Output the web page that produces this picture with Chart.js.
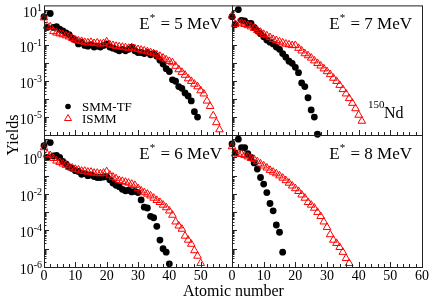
<!DOCTYPE html>
<html>
<head>
<meta charset="utf-8">
<script src="https://cdn.jsdelivr.net/npm/chart.js@4.4.0/dist/chart.umd.min.js"></script>
<style>
body { margin: 0; background: #fff; }
#wrap { position: relative; width: 430px; height: 300px; overflow: hidden; }
#wrap canvas { position: absolute; left: 0; top: 0; }
.title { position: absolute; font-family: "Liberation Serif", serif; font-size: 16px; color: #000; white-space: nowrap; }
#ytitle { left: -12px; top: 126px; width: 50px; text-align: center; transform: rotate(-90deg); }
#xtitle { left: 183px; top: 282px; }
</style>
</head>
<body>
<div id="wrap">
  <canvas id="p5" width="430" height="300"></canvas>
  <canvas id="p7" width="430" height="300"></canvas>
  <canvas id="p6" width="430" height="300"></canvas>
  <canvas id="p8" width="430" height="300"></canvas>
  <div class="title" id="ytitle">Yields</div>
  <div class="title" id="xtitle">Atomic number</div>
</div>
<script>
// yields vs atomic number Z (index = Z, starting at 0)
var smm5 = [4, 1.0, 6, 1.0, 1.1, 0.8, 0.65, 0.5, 0.4, 0.25, 0.2, 0.12, 0.15, 0.1, 0.09, 0.11, 0.08, 0.09, 0.08, 0.1,
            0.12, 0.08, 0.07, 0.06, 0.05, 0.06, 0.05, 0.06, 0.08, 0.05, 0.04, 0.04, 0.035, 0.04, 0.03, 0.035, 0.025, 0.015, 0.009, 0.005,
            0.0035, 0.0012, 0.001, 0.0005, 0.0004, 0.00022, 0.00015, 0.00008, 0.00002, 0.00001];
var ismm5 = [3.5, 1.2, 1.1, 0.6, 0.5, 0.45, 0.4, 0.35, 0.3, 0.25, 0.2, 0.18, 0.17, 0.15, 0.14, 0.15, 0.13, 0.14, 0.12, 0.13,
             0.16, 0.11, 0.1, 0.09, 0.085, 0.08, 0.075, 0.07, 0.075, 0.065, 0.06, 0.055, 0.05, 0.045, 0.04, 0.035, 0.03, 0.025, 0.02, 0.016,
             0.013, 0.011, 0.007, 0.0045, 0.0032, 0.0022, 0.0014, 0.001, 0.0007, 0.0005, 0.0003, 0.0002, 0.00008, 0.00004, 0.000012, 0.000005, 0.000002];
var smm7 = [4, 1.5, 10, 2.5, 2.3, 1.7, 1.7, 1.0, 0.65, 0.45, 0.3, 0.2, 0.15, 0.12, 0.08, 0.06, 0.035, 0.022, 0.013, 0.01,
            0.006, 0.003, 0.0008, 0.0005, 0.00012, 0.000025, 0.00001, 0.0000011];
var ismm7 = [4.5, 1.5, 1.8, 1.8, 1.5, 1.3, 1.1, 0.9, 0.7, 0.55, 0.42, 0.35, 0.28, 0.22, 0.19, 0.16, 0.14, 0.12, 0.11, 0.1,
             0.1, 0.07, 0.05, 0.035, 0.027, 0.02, 0.014, 0.01, 0.0072, 0.005, 0.0035, 0.0024, 0.0015, 0.001, 0.0006, 0.00035, 0.0002, 0.00011, 0.00006, 0.00003,
             0.000013, 0.000006];
var smm6 = [4.4, 1.0, 6.5, 1.2, 1.3, 1.0, 0.6, 0.45, 0.3, 0.25, 0.19, 0.17, 0.12, 0.13, 0.1, 0.11, 0.09, 0.08, 0.08, 0.085,
            0.09, 0.06, 0.04, 0.03, 0.025, 0.018, 0.015, 0.016, 0.013, 0.014, 0.012, 0.0047, 0.0019, 0.0017, 0.0006, 0.0005, 0.00017, 0.00003, 0.00001, 0.0000065,
            0.0000015];
var ismm6 = [3.5, 1.5, 1.3, 0.9, 0.65, 0.55, 0.45, 0.38, 0.3, 0.27, 0.23, 0.21, 0.18, 0.18, 0.16, 0.16, 0.14, 0.14, 0.13, 0.14,
             0.17, 0.11, 0.085, 0.07, 0.055, 0.05, 0.045, 0.04, 0.035, 0.03, 0.02, 0.015, 0.012, 0.01, 0.008, 0.006, 0.0045, 0.0035, 0.0025, 0.0018,
             0.0012, 0.0007, 0.0003, 0.00018, 0.00012, 0.00005, 0.00003, 0.000018, 0.000008, 0.000004, 0.0000016];
var smm8 = [5.5, 1.8, 10, 3.5, 3.5, 1.6, 1.0, 0.5, 0.23, 0.08, 0.035, 0.012, 0.003, 0.0012, 0.0002, 0.00008, 0.0000065];
var ismm8 = [4, 1.6, 1.6, 1.5, 1.3, 1.1, 0.9, 0.8, 0.6, 0.45, 0.35, 0.27, 0.2, 0.16, 0.13, 0.1, 0.075, 0.055, 0.04, 0.028,
             0.02, 0.014, 0.009, 0.006, 0.0035, 0.0025, 0.0017, 0.001, 0.0006, 0.0003, 0.00015, 0.00006, 0.00003, 0.00002, 0.000012, 0.0000065, 0.000003, 0.0000016];

var xTicks = [0, 10, 20, 30, 40, 50, 60];
var yExpTop = [1, -1, -3, -5];
var yExpBottom = [0, -2, -4, -6];
var energies = ['5', '7', '6', '8'];

var FONT = '"Liberation Serif", serif';

function toXY(arr) {
    var out = [];
    for (var i = 0; i < arr.length; i++) out.push({x: i, y: arr[i]});
    return out;
}

var panelPlugin = {
    id: 'panel',
    afterDatasetsDraw: function(chart, args, o) {
        var ctx = chart.ctx, a = chart.chartArea;
        var xs = chart.scales.x, ys = chart.scales.y;
        ctx.save();
        ctx.strokeStyle = '#222';
        ctx.lineWidth = 1;
        ctx.strokeRect(a.left + 0.5, a.top + 0.5, a.right - a.left, a.bottom - a.top);

        // inward ticks, bottom (every 2) and left (log decades + minors)
        ctx.beginPath();
        for (var v = 0; v <= 60; v += 2) {
            var px = Math.round(xs.getPixelForValue(v)) + 0.5;
            var len = v % 10 === 0 ? 5 : 3;
            ctx.moveTo(px, a.bottom);
            ctx.lineTo(px, a.bottom - len);
        }
        for (var e = -6; e <= 1; e++) {
            for (var m = 1; m <= 9; m++) {
                var val = m * Math.pow(10, e);
                if (val < ys.min || val > ys.max) continue;
                var py = Math.round(ys.getPixelForValue(val)) + 0.5;
                var l = m === 1 ? 5 : 2.5;
                ctx.moveTo(a.left, py);
                ctx.lineTo(a.left + l, py);
            }
        }
        ctx.stroke();

        ctx.fillStyle = '#000';
        ctx.textBaseline = 'alphabetic';

        // y tick labels 10^n
        if (o.yExp) {
            o.yExp.forEach(function(n) {
                var py = ys.getPixelForValue(Math.pow(10, n));
                var sup = String(n);
                ctx.font = '10px ' + FONT;
                var ws = ctx.measureText(sup).width;
                var xe = a.left - 2;
                ctx.textAlign = 'left';
                ctx.fillText(sup, xe - ws, py + 1);
                ctx.font = '14px ' + FONT;
                ctx.textAlign = 'right';
                ctx.fillText('10', xe - ws, py + 7);
            });
        }

        // x tick labels
        if (o.xLabels) {
            ctx.font = '14px ' + FONT;
            ctx.textAlign = 'center';
            xTicks.forEach(function(t) {
                if (t > o.xMax) return;
                ctx.fillText(String(t), xs.getPixelForValue(t), a.bottom + 13);
            });
        }

        // E* = n MeV
        ctx.textAlign = 'left';
        ctx.font = '17px ' + FONT;
        var rest = ' = ' + o.energy + ' MeV';
        var wr = ctx.measureText(rest).width;
        var we = ctx.measureText('E').width;
        ctx.font = '11px ' + FONT;
        var wst = ctx.measureText('*').width;
        var xr = a.right - 10 - wr;
        var base = a.top + 24;
        ctx.fillText('*', xr - wst - 1, base - 8);
        ctx.font = '17px ' + FONT;
        ctx.fillText(rest, xr, base);
        ctx.fillText('E', xr - wst - we - 1, base);

        if (o.legend) {
            ctx.fillStyle = '#000';
            ctx.beginPath();
            ctx.arc(a.left + 24, 106.5, 2.8, 0, Math.PI * 2);
            ctx.fill();
            ctx.strokeStyle = '#f00';
            ctx.beginPath();
            ctx.moveTo(a.left + 24, 114.5);
            ctx.lineTo(a.left + 27.5, 120.5);
            ctx.lineTo(a.left + 20.5, 120.5);
            ctx.closePath();
            ctx.stroke();
            ctx.fillStyle = '#000';
            ctx.font = '13px ' + FONT;
            ctx.fillText('SMM-TF', a.left + 38, 111);
            ctx.fillText('ISMM', a.left + 38, 123);
        }
        if (o.nucleus) {
            ctx.font = '11px ' + FONT;
            ctx.fillText('150', 368, 108);
            ctx.font = '16px ' + FONT;
            ctx.fillText('Nd', 384, 118);
        }
        ctx.restore();
    }
};

function makePanel(id, box, smm, ismm, opts) {
    return new Chart(document.getElementById(id), {
        type: 'scatter',
        data: {
            datasets: [
                {
                    label: 'ISMM',
                    data: toXY(ismm),
                    pointStyle: 'triangle',
                    pointRadius: 4.4,
                    borderColor: '#ff0000',
                    backgroundColor: 'rgba(0,0,0,0)',
                    borderWidth: 1,
                    clip: false
                },
                {
                    label: 'SMM-TF',
                    data: toXY(smm),
                    pointStyle: 'circle',
                    pointRadius: 3.4,
                    borderColor: '#000',
                    backgroundColor: '#000',
                    borderWidth: 0,
                    clip: false
                }
            ]
        },
        options: {
            responsive: false,
            animation: false,
            events: [],
            layout: {padding: {left: box[0], top: box[1], right: 430 - box[2], bottom: 300 - box[3]}},
            plugins: {legend: {display: false}, tooltip: {enabled: false}, panel: opts},
            scales: {
                x: {type: 'linear', min: 0, max: 60, display: false},
                y: {type: 'logarithmic', min: 1e-6, max: 17, display: false}
            }
        },
        plugins: [panelPlugin]
    });
}

makePanel('p5', [44, 3, 232, 135], smm5, ismm5, {yExp: yExpTop, energy: energies[0], legend: true});
makePanel('p7', [232, 3, 422, 135], smm7, ismm7, {energy: energies[1], nucleus: true});
makePanel('p6', [44, 135, 232, 267], smm6, ismm6, {yExp: yExpBottom, xLabels: true, xMax: 50, energy: energies[2]});
makePanel('p8', [232, 135, 422, 267], smm8, ismm8, {xLabels: true, xMax: 60, energy: energies[3]});
</script>
</body>
</html>
